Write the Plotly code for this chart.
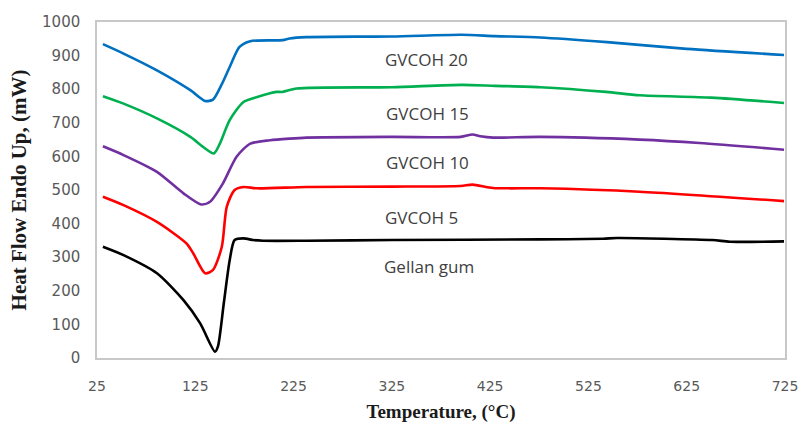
import plotly.graph_objects as go

# GVCOH 20
t_g20 = [31, 52, 86, 120, 135, 143, 152, 160, 170, 181, 214, 221, 238, 325, 396, 430, 476, 544, 625, 724]
v_g20 = [934, 906, 856, 797, 765, 769, 815, 866, 926, 943, 946, 951, 955, 957, 962, 958, 954, 940, 920, 902]
# GVCOH 15
t_g15 = [31, 52, 86, 120, 133, 144, 150, 160, 174, 188, 208, 214, 228, 325, 396, 430, 476, 543, 577, 650, 724]
v_g15 = [779, 757, 713, 658, 628, 609, 638, 708, 762, 777, 792, 792, 802, 806, 813, 810, 806, 792, 782, 775, 759]
# GVCOH 10
t_g10 = [31, 52, 86, 113, 131, 140, 153, 167, 181, 201, 221, 238, 325, 395, 407, 415, 428, 476, 577, 638, 724]
v_g10 = [630, 604, 554, 490, 457, 465, 519, 599, 638, 648, 653, 656, 658, 658, 665, 660, 656, 658, 650, 640, 620]
# GVCOH 5
t_g5 = [31, 52, 86, 116, 123, 135, 143, 152, 157, 165, 174, 188, 238, 325, 395, 407, 428, 476, 577, 724]
v_g5 = [480, 455, 405, 341, 311, 252, 262, 331, 450, 500, 509, 505, 509, 510, 512, 516, 506, 505, 495, 467]
# Gellan gum
t_gg = [31, 52, 86, 113, 130, 145, 148, 154, 160, 165, 174, 184, 194, 238, 325, 476, 540, 554, 651, 669, 724]
v_gg = [331, 306, 252, 172, 103, 19, 34, 163, 291, 351, 356, 351, 349, 349, 351, 353, 355, 357, 351, 346, 347]

series_names = ["GVCOH 20", "GVCOH 15", "GVCOH 10", "GVCOH 5", "Gellan gum"]
series_colors = ["#0070C0", "#00B050", "#7030A0", "#FF0000", "#000000"]
series_t = [t_g20, t_g15, t_g10, t_g5, t_gg]
series_v = [v_g20, v_g15, v_g10, v_g5, v_gg]

# label positions (temperature, value)
label_t = [360, 361, 361, 355, 363]
label_v = [888, 729, 581, 418, 271]

x_ticks = [25, 125, 225, 325, 425, 525, 625, 725]
y_ticks = [0, 100, 200, 300, 400, 500, 600, 700, 800, 900, 1000]

fig = go.Figure()
for name, col, t, v in zip(series_names, series_colors, series_t, series_v):
    fig.add_trace(go.Scatter(x=t, y=v, mode="lines", name=name,
                             line=dict(color=col, width=2.6, shape="spline", smoothing=0.7)))

for name, lt, lv in zip(series_names, label_t, label_v):
    fig.add_annotation(x=lt, y=lv, text=name, showarrow=False,
                       font=dict(family="Open Sans", size=17, color="#404040"))

fig.update_layout(
    width=799, height=423,
    margin=dict(l=97, r=14, t=22, b=65),
    paper_bgcolor="white", plot_bgcolor="white",
    showlegend=False,
    xaxis=dict(range=[25, 725], tickvals=x_ticks, showgrid=False, zeroline=False,
               showline=True, linecolor="#c8c8c8", linewidth=1.5, mirror=True,
               ticks="outside", ticklen=14, tickcolor="rgba(0,0,0,0)",
               automargin=False,
               tickfont=dict(family="DejaVu Sans", size=14, color="#595959"),
               title=dict(text="Temperature, (°C)", standoff=13,
                          font=dict(family="Liberation Serif", size=19, color="#1a1a1a", weight="bold")),
               ),
    yaxis=dict(range=[0, 1000], tickvals=y_ticks, showgrid=False, zeroline=False,
               showline=True, linecolor="#c8c8c8", linewidth=1.5, mirror=True,
               ticks="outside", ticklen=12, tickcolor="rgba(0,0,0,0)",
               automargin=False,
               tickfont=dict(family="DejaVu Sans", size=15, color="#595959"),
               title=dict(text="Heat Flow Endo Up, (mW)", standoff=10,
                          font=dict(family="Liberation Serif", size=21, color="#1a1a1a", weight="bold")),
               ),
)

fig.write_html("out.html")
